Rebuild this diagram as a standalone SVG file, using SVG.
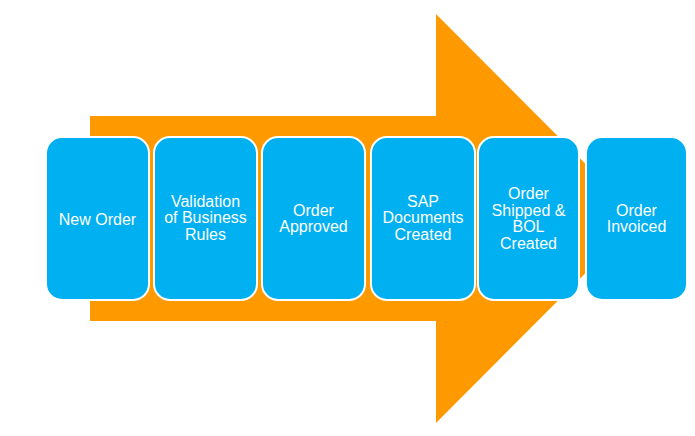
<svg xmlns="http://www.w3.org/2000/svg" width="695" height="436" viewBox="0 0 695 436">
<style>
.box{fill:#00B0F0;stroke:#FFFFFF;stroke-width:2}
.lbl{fill:#FFFFFF;font-family:"Liberation Sans",Arial,sans-serif;font-size:16px;text-anchor:middle}
</style>
<rect width="695" height="436" fill="#FFFFFF"/>
<g id="arrow">
<polygon points="90,116 436,116 436,14 640,218.5 436,423 436,321 90,321" fill="#FF9900"/>
</g>
<g id="connectors"/>
<g id="n1">
<rect class="box" x="46" y="137" width="103" height="163" rx="16"/>
<text class="lbl" x="97.5" y="224.5">New Order</text>
</g>
<g id="n2">
<rect class="box" x="154" y="137" width="103" height="163" rx="16"/>
<text class="lbl" x="205.5" y="206.5">Validation</text>
<text class="lbl" x="205.5" y="223">of Business</text>
<text class="lbl" x="205.5" y="239.5">Rules</text>
</g>
<g id="n3">
<rect class="box" x="262" y="137" width="103" height="163" rx="16"/>
<text class="lbl" x="313.5" y="216">Order</text>
<text class="lbl" x="313.5" y="232">Approved</text>
</g>
<g id="n4">
<rect class="box" x="371" y="137" width="104" height="163" rx="16"/>
<text class="lbl" x="423" y="206.5">SAP</text>
<text class="lbl" x="423" y="223">Documents</text>
<text class="lbl" x="423" y="239.5">Created</text>
</g>
<g id="n5">
<rect class="box" x="478" y="137" width="101" height="163" rx="16"/>
<text class="lbl" x="528.5" y="198.5">Order</text>
<text class="lbl" x="528.5" y="215.5">Shipped &amp;</text>
<text class="lbl" x="528.5" y="232">BOL</text>
<text class="lbl" x="528.5" y="248.5">Created</text>
</g>
<g id="n6">
<rect class="box" x="586" y="137" width="101" height="163" rx="16"/>
<text class="lbl" x="636.5" y="216">Order</text>
<text class="lbl" x="636.5" y="232">Invoiced</text>
</g>
</svg>
